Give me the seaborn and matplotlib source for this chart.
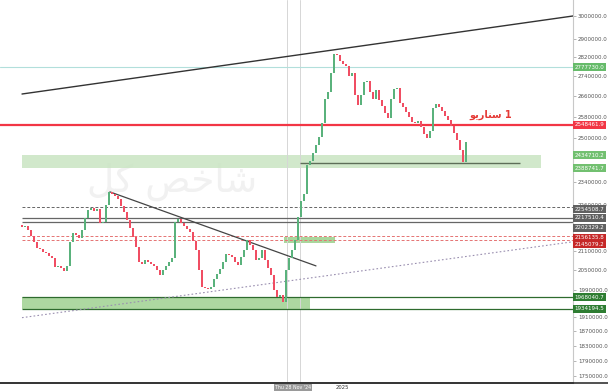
import numpy as np
import matplotlib
matplotlib.use("Agg")
import matplotlib.pyplot as plt
import seaborn as sns
from matplotlib.transforms import blended_transform_factory
from matplotlib.ticker import FixedLocator, FuncFormatter, NullLocator

# ---------------- data ----------------
closes_k = [
    2188, 2191, 2178, 2158, 2139, 2119, 2116, 2107, 2104, 2095,
    2088, 2060, 2063, 2057, 2048, 2063, 2139, 2168, 2162, 2152,
    2178, 2217, 2244, 2251, 2241, 2247, 2200, 2204, 2261, 2305,
    2298, 2292, 2281, 2258, 2237, 2210, 2184, 2155, 2123, 2076,
    2070, 2082, 2076, 2070, 2063, 2051, 2036, 2051, 2063, 2076,
    2088, 2204, 2213, 2200, 2191, 2181, 2171, 2142, 2113, 2051,
    1999, 1996, 1993, 1999, 2024, 2039, 2054, 2076, 2101, 2098,
    2091, 2076, 2066, 2091, 2113, 2145, 2129, 2113, 2082, 2088,
    2113, 2082, 2057, 2036, 1990, 1970, 1976, 1955, 2051, 2088,
    2113, 2145, 2220, 2275, 2298, 2400, 2414, 2444, 2474, 2503,
    2556, 2650, 2677, 2755, 2834, 2830, 2805, 2792, 2784, 2742,
    2755, 2665, 2626, 2665, 2718, 2722, 2677, 2650, 2685, 2646,
    2622, 2594, 2575, 2650, 2689, 2693, 2634, 2618, 2598, 2579,
    2559, 2556, 2563, 2540, 2514, 2499, 2525, 2614, 2630, 2618,
    2602, 2583, 2567, 2544, 2518, 2492, 2455, 2411, 2485,
]
first_open = 2195000

y_ticks = [3000000, 2900000, 2820000, 2740000, 2660000, 2580000, 2500000,
           2340000, 2260000, 2110000, 2050000, 1990000, 1910000, 1870000,
           1830000, 1790000, 1750000]

level_values = [2777730.0, 2548461.9, 2434710.2, 2388741.7, 2254508.7,
                2217510.4, 2202329.2, 2156135.8, 2145079.2, 1968040.7, 1934194.5]
level_colors = ['#66bb6a', '#f23645', '#72c070', '#72c070', '#616161',
                '#616161', '#616161', '#c62828', '#c62828', '#2e7d32', '#2e7d32']

upper_trend_x = [0, 183.67]
upper_trend_y = [2669000, 3000000]
down_trend_x = [29.3, 98]
down_trend_y = [2305000, 2063000]
dotted_x = [0, 183.67]
dotted_y = [1909000, 2139000]

support_x = [92.67, 166]
support_y = 2407000
cross_x = [88.33, 92.67]

scenario_label = "\uFEEE\uFEF3\uFEAD\uFE8E\uFEE8\uFEB3 1"   # سناریو 1
watermark = "\uFEDE\uFB90 \uFEBA\uFEA7\uFE8E\uFEB7"           # شاخص کل
x_label_year = "2025"
x_cross_label = "Thu 28 Nov '24"

# ---------------- figure ----------------
sns.set_theme(style="white")
plt.rcParams['font.family'] = ['DejaVu Sans', 'Noto Sans']

closes = np.array(closes_k, dtype=float) * 1000
opens = np.r_[first_open, closes[:-1]]
bars = np.arange(len(closes))

fig = plt.figure(figsize=(6.08, 3.92), dpi=100)
fig.patch.set_facecolor('white')
ax = fig.add_axes([0, 9 / 392, 573 / 608, 383 / 392])
ax.set_facecolor('white')
ax.set_yscale('log')
ax.set_ylim(1731000, 3072700)
ax.set_xlim(-7.33, 183.67)

trans_y = blended_transform_factory(ax.transAxes, ax.transData)
trans_x = blended_transform_factory(ax.transData, ax.transAxes)

# watermark
ax.text(50, 2340000, watermark, fontsize=27, color='#f1f1f1',
        ha='center', va='center', zorder=0)

# green zones
ax.fill_between([0, 173], 2388741.7, 2434710.2, color='#c9e5c2', alpha=0.85, lw=0, zorder=1)
ax.fill_between([0, 96], 1934194.5, 1968040.7, color='#a9d69c', alpha=0.95, lw=0, zorder=1)
ax.fill_between([87.3, 104.3], 2135000, 2155000, color='#a9d69c', lw=0, zorder=1)

# horizontal levels
ax.axhline(2777730.0, color='#b2dfdb', lw=0.8, zorder=2)
ax.axhline(2548461.9, color='#f23645', lw=1.6, zorder=2)
ax.hlines(2254508.7, 0, 183.67, color='#666666', lw=0.7, linestyles=(0, (3, 2)), zorder=2)
ax.hlines([2217510.4, 2202329.2], 0, 183.67, color='#666666', lw=0.9, zorder=2)
ax.hlines([2156135.8, 2145079.2], 0, 183.67, color='#e57373', lw=0.7, linestyles=(0, (3, 2)), zorder=2)
ax.hlines([1968040.7, 1934194.5], 0, 183.67, color='#2e6b2e', lw=0.9, zorder=2)
ax.hlines(support_y, support_x[0], support_x[1], color='#5d6e58', lw=1.0, zorder=4)

# vertical crosshair lines
for cx in cross_x:
    ax.axvline(cx, color='#d6d6d6', lw=0.7, zorder=1)

# trend lines
sns.lineplot(x=upper_trend_x, y=upper_trend_y, ax=ax, color='#333333', lw=1.0, zorder=3)
sns.lineplot(x=down_trend_x, y=down_trend_y, ax=ax, color='#444444', lw=0.9, zorder=3)
ax.plot(dotted_x, dotted_y, color='#9a8fb0', lw=0.8, ls=(0, (1.5, 2)), zorder=2)

# candles
up = closes >= opens
colors = np.where(up, '#5ab27c', '#f04e63')
lo = np.minimum(opens, closes)
hi = np.maximum(opens, closes)
hi = np.maximum(hi, lo * 1.0015)
ax.bar(bars, hi - lo, bottom=lo, width=0.7, color=colors, lw=0, zorder=5)

# scenario text
ax.text(163.3, 2566000, scenario_label, color='#e53935', fontsize=7,
        fontweight='bold', ha='right', va='bottom', zorder=6)

# right axis
ax.yaxis.tick_right()
ax.yaxis.set_major_locator(FixedLocator(y_ticks))
ax.yaxis.set_minor_locator(NullLocator())
ax.yaxis.set_major_formatter(FuncFormatter(lambda v, p: f"{v:.1f}"))
ax.tick_params(axis='y', labelsize=4.0, labelcolor='#555555', length=2,
               color='#999999', width=0.5, pad=1.5, right=True)
ax.set_xticks([])
for s in ['top', 'left']:
    ax.spines[s].set_visible(False)
ax.spines['right'].set_color('#c8c8c8')
ax.spines['right'].set_linewidth(0.8)
ax.spines['bottom'].set_color('#333333')
ax.spines['bottom'].set_linewidth(1.2)

# level label boxes (stacked so that they do not overlap, as on the reference scale)
label_shift = [1.0, 1.0, 1.0, 1.0, 0.996, 1.0, 0.992, 0.998, 0.993, 1.0, 1.0]
for v, c, sh in zip(level_values, level_colors, label_shift):
    ax.text(1.003, v * sh, f"{v:.1f}", transform=trans_y, fontsize=4.0, color='white',
            ha='left', va='center', clip_on=False, zorder=10,
            bbox=dict(boxstyle='square,pad=0.25', fc=c, ec='none'))

# x-axis labels
ax.text(90.3, -0.006, x_cross_label, transform=trans_x, fontsize=3.4, color='white',
        ha='center', va='top', clip_on=False,
        bbox=dict(boxstyle='square,pad=0.25', fc='#9a9a9a', ec='none'))
ax.text(106.7, -0.006, x_label_year, transform=trans_x, fontsize=3.8, color='#333333',
        ha='center', va='top', clip_on=False)

fig.lines.append(plt.Line2D([0, 1], [9 / 392, 9 / 392], transform=fig.transFigure,
                            color='#333333', lw=1.2))

fig.savefig("out.png", dpi=100, facecolor='white')
